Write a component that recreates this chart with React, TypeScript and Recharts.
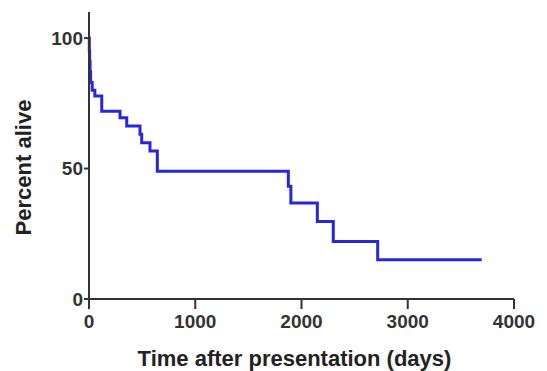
import { LineChart, Line, XAxis, YAxis } from 'recharts';

// Kaplan-Meier estimate
const days = [0, 3, 6, 10, 15, 30, 55, 120, 292, 355, 480, 496, 574, 643, 1876, 1900, 2149, 2299, 2717, 3696];
const percentAlive = [100, 95, 91, 87, 83, 80, 77.8, 72, 69.5, 66.3, 63.1, 59.9, 56.7, 49, 43.2, 36.8, 29.7, 22, 15, 15];

const xTicks = [0, 1000, 2000, 3000, 4000];
const yTicks = [0, 50, 100];

const FONT = '"Liberation Sans", Arial, Helvetica, sans-serif';
const AXIS = '#333';

const data = days.map((t, i) => ({ t, p: percentAlive[i] }));

const XTitle = (props: any) => {
  const { viewBox } = props;
  if (!viewBox) return null;
  const x = viewBox.x + viewBox.width / 2 - 7;
  const y = viewBox.y + viewBox.height - 5;
  return (
    <text x={x} y={y} textAnchor="middle" fill="#222" fontSize={22} fontWeight="bold" fontFamily={FONT}>
      Time after presentation (days)
    </text>
  );
};

const YTitle = (props: any) => {
  const { viewBox } = props;
  if (!viewBox) return null;
  const x = viewBox.x + 23;
  const y = viewBox.y + viewBox.height / 2 + 12;
  return (
    <text
      x={x}
      y={y}
      transform={`rotate(-90, ${x}, ${y})`}
      textAnchor="middle"
      dominantBaseline="central"
      fill="#222"
      fontSize={22}
      fontWeight="bold"
      fontFamily={FONT}
    >
      Percent alive
    </text>
  );
};

export default function App() {
  const tickStyle = { fill: '#333', fontSize: 19, fontWeight: 'bold', fontFamily: FONT };
  const lineStyle = { stroke: AXIS, strokeWidth: 2 };

  return (
    <div style={{ width: 547, height: 371, background: '#fff' }}>
      <style>{'body{margin:0}'}</style>
      <LineChart width={547} height={371} data={data} margin={{ top: 12, right: 33, bottom: 0, left: 0 }}>
        <XAxis
          type="number"
          dataKey="t"
          domain={[0, 4000]}
          ticks={xTicks}
          interval={0}
          height={72}
          tickSize={10}
          tickMargin={6}
          tick={tickStyle}
          axisLine={lineStyle}
          tickLine={lineStyle}
          label={<XTitle />}
        />
        <YAxis
          type="number"
          domain={[0, 110]}
          ticks={yTicks}
          interval={0}
          width={89}
          tickSize={5}
          tickMargin={1}
          tick={tickStyle}
          axisLine={lineStyle}
          tickLine={lineStyle}
          label={<YTitle />}
        />
        <Line
          type="stepAfter"
          dataKey="p"
          stroke="#2626dc"
          strokeWidth={3}
          dot={false}
          isAnimationActive={false}
        />
      </LineChart>
    </div>
  );
}
